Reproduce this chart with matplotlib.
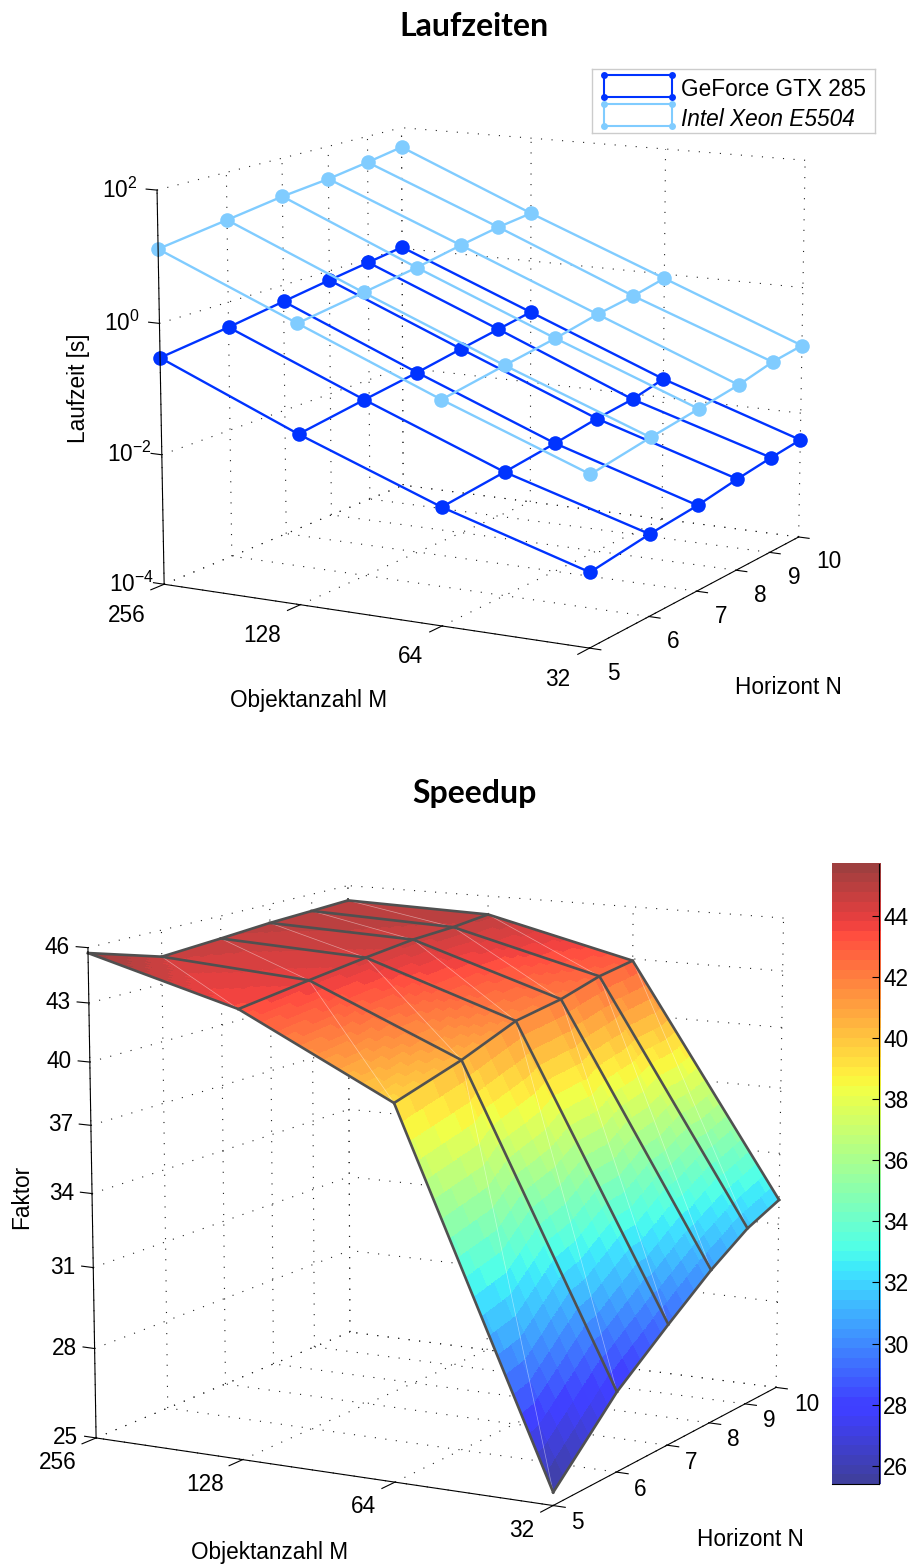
import numpy as np
import matplotlib
matplotlib.use('Agg')
import matplotlib.pyplot as plt
from matplotlib.colors import Normalize
from mpl_toolkits.mplot3d import proj3d

plt.rcParams['font.family'] = ['Liberation Sans', 'DejaVu Sans']
plt.rcParams['mathtext.fontset'] = 'custom'
plt.rcParams['mathtext.rm'] = 'Liberation Sans'
plt.rcParams['mathtext.default'] = 'regular'

# rows: M = 256,128,64,32 - columns: N = 5..10
M_vals = [256, 128, 64, 32]
N_vals = [5, 6, 7, 8, 9, 10]
# log10 of the runtime in seconds
gpu_log = [[-0.52, -0.39, -0.26, -0.15, -0.06, 0.02],
           [-1.42, -1.27, -1.15, -1.03, -0.93, -0.84],
           [-2.23, -2.11, -2.00, -1.89, -1.82, -1.70],
           [-2.89, -2.76, -2.68, -2.57, -2.49, -2.43]]
cpu_log = [[1.12, 1.27, 1.40, 1.48, 1.58, 1.68],
           [0.23, 0.37, 0.49, 0.62, 0.72, 0.78],
           [-0.65, -0.50, -0.38, -0.25, -0.17, -0.07],
           [-1.47, -1.32, -1.21, -1.11, -0.98, -0.92]]
speedup = [[45.7, 44.5, 44.7, 44.9, 45.0, 45.1],
           [43.4, 43.9, 44.3, 44.6, 44.7, 44.9],
           [39.5, 40.5, 41.6, 42.0, 42.6, 42.9],
           [25.4, 27.6, 29.1, 30.4, 31.4, 32.0]]
z_ticks_top = [-4, -2, 0, 2]
z_ticks_bot = [25, 28, 31, 34, 37, 40, 43, 46]
cbar_ticks = [26, 28, 30, 32, 34, 36, 38, 40, 42, 44]

W_PX, H_PX = 911, 1564
BLUE = '#0033ff'
LIGHT = '#80ccff'
EDGE = '#505050'
ALPHA = 0.75
FS = 16.3

x_m = np.log2(M_vals)
y_n = np.log2(N_vals)

fig = plt.figure(figsize=(W_PX / 100, H_PX / 100), dpi=100)


def make_axes(s, cx, cy, elev, azim, focal, aspect, zlim):
    # s = pixels per projected unit, cx/cy = pixel of the projection origin
    w = s * 0.185
    left = cx - s * 0.095
    top = cy - s * 0.09
    ax = fig.add_axes([left / W_PX, 1 - (top + w) / H_PX, w / W_PX, w / H_PX], projection='3d')
    ax.set_axis_off()
    ax.computed_zorder = False
    ax.set_xlim3d(8, 5)
    ax.set_ylim3d(y_n[0], y_n[-1])
    ax.set_zlim3d(*zlim)
    ax.view_init(elev, azim)
    ax.set_proj_type('persp', focal_length=focal)
    ax.set_box_aspect(aspect)
    return ax


def label(ax, x, y, z, text, dx, dy, ha):
    tx, ty, _ = proj3d.proj_transform(x, y, z, ax.get_proj())
    ax.annotate(text, xy=(tx, ty), xytext=(dx, -dy), textcoords='offset pixels',
                ha=ha, va='center', fontsize=FS, annotation_clip=False)


def box(ax, z_pos, z_labels, zdx, zha, zdy, ndy, mdy):
    zmin, zmax = min(z_pos), max(z_pos)
    dots = dict(color='#222222', lw=0.8, ls=(0, (1.0, 8.5)), zorder=1)
    solid = dict(color='black', lw=0.8, zorder=6)
    # dotted grid on the floor and the two back walls
    for x in x_m:
        ax.plot([x, x], [y_n[0], y_n[-1]], [zmin, zmin], **dots)
        ax.plot([x, x], [y_n[-1], y_n[-1]], [zmin, zmax], **dots)
    for y in y_n:
        ax.plot([5, 8], [y, y], [zmin, zmin], **dots)
        ax.plot([8, 8], [y, y], [zmin, zmax], **dots)
    for z in z_pos:
        ax.plot([8, 8], [y_n[0], y_n[-1]], [z, z], **dots)
        ax.plot([5, 8], [y_n[-1], y_n[-1]], [z, z], **dots)
    # solid axes with their ticks
    ax.plot([8, 8], [y_n[0], y_n[0]], [zmin, zmax], **solid)
    ax.plot([5, 8], [y_n[0], y_n[0]], [zmin, zmin], **solid)
    ax.plot([5, 5], [y_n[0], y_n[-1]], [zmin, zmin], **solid)
    for z, t in zip(z_pos, z_labels):
        ax.plot([8, 8.08], [y_n[0], y_n[0]], [z, z], **solid)
        label(ax, 8, y_n[0], z, t, zdx, zdy, zha)
    for x, m in zip(x_m, M_vals):
        ax.plot([x, x], [y_n[0], y_n[0] - 0.05], [zmin, zmin], **solid)
        label(ax, x, y_n[0], zmin, str(m), -19, mdy, 'right')
    for y, n in zip(y_n, N_vals):
        ax.plot([5, 4.925], [y, y], [zmin, zmin], **solid)
        label(ax, 5, y, zmin, str(n), 18, ndy, 'left')


def mesh(ax, values, color, order):
    v = np.array(values)
    for i in range(len(x_m)):
        ax.plot(np.full(6, x_m[i]), y_n, v[i], color=color, lw=1.7, zorder=order)
    for j in range(len(y_n)):
        ax.plot(x_m, np.full(4, y_n[j]), v[:, j], color=color, lw=1.7, zorder=order)
    for i in range(len(x_m)):
        ax.plot(np.full(6, x_m[i]), y_n, v[i], ls='none', marker='o', ms=10.5,
                mfc=color, mec='none', zorder=order + 1)


# ---------- top chart
ax1 = make_axes(4067.06, 488.85, 369.49, 11.944, -61.275, 0.948, (1.199, 1.199, 1), (-4, 2))
box(ax1, z_ticks_top, ['$10^{%d}$' % t for t in z_ticks_top], -55, 'left', 0, 25, 31)
mesh(ax1, gpu_log, BLUE, 3)
mesh(ax1, cpu_log, LIGHT, 4)

fig.text(474 / W_PX, 1 - 26 / H_PX, 'Laufzeiten', family='Lato', weight='bold', fontsize=23,
         ha='center', va='center')
fig.text(79 / W_PX, 1 - 388 / H_PX, 'Laufzeit [s]', rotation=90, fontsize=FS, ha='center', va='center')
fig.text(309 / W_PX, 1 - 701 / H_PX, 'Objektanzahl M', fontsize=FS, ha='center', va='center')
fig.text(788 / W_PX, 1 - 688 / H_PX, 'Horizont N', fontsize=FS, ha='center', va='center')

# legend, drawn with the little grid icons of the original
leg = fig.add_axes([591.7 / W_PX, 1 - 133.3 / H_PX, 283 / W_PX, 64 / H_PX])
leg.set_xlim(591.7, 874.7)
leg.set_ylim(133.3, 69.3)
leg.set_xticks([])
leg.set_yticks([])
for sp in leg.spines.values():
    sp.set_color('#cccccc')
    sp.set_linewidth(1)
for c, y0, y1, name, style, yt in [(BLUE, 75, 96.7, 'GeForce GTX 285', 'normal', 89.5),
                                   (LIGHT, 104, 126, 'Intel Xeon E5504', 'italic', 119)]:
    leg.plot([604, 671.7], [y0, y0], color=c, lw=1.5)
    leg.plot([604, 671.7], [y1, y1], color=c, lw=1.5)
    leg.plot([604, 604], [y0, y1], color=c, lw=1.5)
    leg.plot([671.7, 671.7], [y0, y1], color=c, lw=1.5)
    leg.plot([604, 671.7, 604, 671.7], [y0, y0, y1, y1], ls='none', marker='o', ms=5, mfc=c, mec='none')
    leg.text(681, yt, name, style=style, fontsize=FS, va='center', ha='left')

# ---------- bottom chart
z_bot = (np.log10(25), np.log10(46))
ax2 = make_axes(4551.75, 443.73, 1175.03, 11.568, -61.435, 0.951, (1.037, 1.032, 1), z_bot)
box(ax2, list(np.log10(z_ticks_bot)), [str(t) for t in z_ticks_bot], -18, 'right', -0.5, 17, 24.5)

S = np.array(speedup)
clim = (S.min(), S.max())
norm = Normalize(*clim)
jet = plt.get_cmap('jet', 64)


def faded(vals):
    # surface alpha of the original, blended onto white so that no seams appear
    rgba = jet(norm(vals))
    rgba[..., :3] = ALPHA * rgba[..., :3] + (1 - ALPHA)
    rgba[..., 3] = 1
    return rgba


# shading only: each data cell is two flat triangles, the data grid stays as read above
SUB = 20


def shade_grid(values):
    v = np.asarray(values, dtype=float)
    out = np.zeros((3 * SUB + 1, 5 * SUB + 1))
    for a in range(3 * SUB + 1):
        for b in range(5 * SUB + 1):
            i, j = min(a // SUB, 2), min(b // SUB, 4)
            s, t = a / SUB - i, b / SUB - j
            if s + t <= 1:
                out[a, b] = v[i, j] + s * (v[i + 1, j] - v[i, j]) + t * (v[i, j + 1] - v[i, j])
            else:
                out[a, b] = (v[i + 1, j + 1] + (1 - s) * (v[i, j + 1] - v[i + 1, j + 1])
                             + (1 - t) * (v[i + 1, j] - v[i + 1, j + 1]))
    return out


fine_x = np.interp(np.linspace(0, 3, 3 * SUB + 1), np.arange(4), x_m)
fine_y = np.interp(np.linspace(0, 5, 5 * SUB + 1), np.arange(6), y_n)
XX, YY = np.meshgrid(fine_x, fine_y, indexing='ij')
fine_z = shade_grid(np.log10(S))
fine_c = shade_grid(S)
cell = 0.25 * (fine_c[:-1, :-1] + fine_c[1:, :-1] + fine_c[:-1, 1:] + fine_c[1:, 1:])
ax2.plot_surface(XX, YY, fine_z, facecolors=faded(cell), rstride=1, cstride=1,
                 shade=False, linewidth=0, antialiased=False, zorder=3)
# thin light seams along the triangle diagonals
for i in range(3):
    for j in range(5):
        ax2.plot(x_m[i:i + 2], [y_n[j + 1], y_n[j]], np.log10([S[i, j + 1], S[i + 1, j]]),
                 color='white', lw=0.5, alpha=0.45, zorder=3.5)
for i in range(4):
    ax2.plot(np.full(6, x_m[i]), y_n, np.log10(S[i]), color=EDGE, lw=1.9, zorder=4)
for j in range(6):
    ax2.plot(x_m, np.full(4, y_n[j]), np.log10(S[:, j]), color=EDGE, lw=1.9, zorder=4)

fig.text(474 / W_PX, 1 - 793 / H_PX, 'Speedup', family='Lato', weight='bold', fontsize=23,
         ha='center', va='center')
fig.text(22 / W_PX, 1 - 1197 / H_PX, 'Faktor', rotation=90, fontsize=FS, ha='center', va='center')
fig.text(270 / W_PX, 1 - 1553 / H_PX, 'Objektanzahl M', fontsize=FS, ha='center', va='center')
fig.text(750 / W_PX, 1 - 1539 / H_PX, 'Horizont N', fontsize=FS, ha='center', va='center')

# colour bar
cax = fig.add_axes([832 / W_PX, 1 - 1484 / H_PX, 47 / W_PX, 620 / H_PX])
levels = np.linspace(clim[0], clim[1], 64)
cax.imshow(faded(levels)[:, None, :], origin='lower', aspect='auto',
           extent=[0, 1.035, clim[0], clim[1]], interpolation='nearest', clip_on=False)
cax.set_xlim(0, 1)
cax.set_xticks([])
cax.set_yticks(cbar_ticks)
cax.yaxis.tick_right()
cax.tick_params(axis='y', direction='in', length=5, width=0.8, labelsize=FS, pad=3)
cax.spines['left'].set_visible(False)
cax.spines['top'].set_visible(False)
cax.spines['right'].set_linewidth(0.8)
cax.spines['bottom'].set_linewidth(0.8)

fig.savefig('out.png', dpi=100)
